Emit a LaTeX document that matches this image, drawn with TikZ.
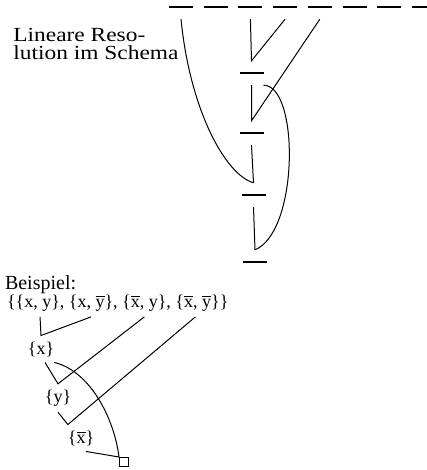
\documentclass[tikz,border=0pt]{standalone}
\usepackage{fontspec}
\setmainfont{Liberation Serif}
\newfontfamily\breit{Liberation Serif}[FakeStretch=1.17]
\usetikzlibrary{positioning}

\newcommand{\quer}[1]{$\overline{\mbox{#1}}$}

\begin{document}
\begin{tikzpicture}[
        % Unités : un pixel de la figure
        x=0.5pt, y=-0.5pt,
        node distance = 5.35pt, % Distance entre les clauses
        every node/.style = {font=\fontsize{9}{9}\selectfont},
        % Style du titre
        titel/.style = {font=\breit\fontsize{10}{9}\selectfont},
        % Style des clauses (traits épais)
        klausel/.style = {
            rectangle,
            fill=black,
            minimum width=12pt,
            minimum height=1.2pt,
            inner sep=0pt,
            outer xsep=0pt,
            outer ysep=5.5pt
        },
        % Style des morceaux de l'ensemble
        menge/.style = {
            anchor=base west,
            inner sep=0pt,
            outer xsep=0pt,
            outer ysep=3pt
        },
        % Style des résolvantes
        resolvente/.style = {
            inner sep=0pt,
            outer xsep=0pt,
            outer ysep=3pt
        },
        % Style des traits
        kante/.style = {
            line width=0.5pt
        }
    ]

        \useasboundingbox (0,0) rectangle (427,470);
        \clip (0,0) rectangle (427,470);

        % 1. Schéma : clauses de départ et résolvantes
        \node (k1) [klausel] at (181,7) {};
        \node (k2) [klausel, right=of k1] {};
        \node (k3) [klausel, right=of k2] {};
        \node (k4) [klausel, right=of k3] {};
        \node (k5) [klausel, right=of k4] {};
        \node (k6) [klausel, right=of k5] {};
        \node (k7) [klausel, right=of k6] {};
        \node (k8) [klausel, right=of k7] {};

        \node (b1) [klausel] at (251.5,73) {};
        \node (b2) [klausel] at (251.5,133) {};
        \node (b3) [klausel] at (253.5,195) {};
        \node (b4) [klausel] at (255,262) {};

        \node (titel) [titel, anchor=north west, align=left, inner sep=0pt] at (13,28) {Lineare Reso-\\lution im Schema};

        % 2. Tracé des traits du schéma
        \draw [kante] (k3.south) -- (b1.north) -- (k4.south);
        \draw [kante] (b1.south) -- (b2.north) -- (k5.south);
        \draw [kante] (k1.south) .. controls +(9,91) and +(-28,-8) .. (b3.north);
        \draw [kante] (b2.south) -- (b3.north);
        \draw [kante] (b1.south east) .. controls +(36,0) and +(44,-18) .. (b4.north);
        \draw [kante] (b3.south) -- (b4.north);

        % 3. Exemple
        \node (beispiel) [menge, font=\fontsize{10}{9}\selectfont] at (5,289) {Beispiel:};
        \node (auf) [menge] at (7,307) {\{};
        \node (s1) [menge] at (auf.base east) {\{x, y\},};
        \node (s2) [menge] at (s1.base east) {\ \{x, \quer{y}\},};
        \node (s3) [menge] at (s2.base east) {\ \{\quer{x}, y\},};
        \node (s4) [menge] at (s3.base east) {\ \{\quer{x}, \quer{y}\}};
        \node (zu) [menge] at (s4.base east) {\}};

        \node (r1) [resolvente] at (41,349) {\{x\}};
        \node (r2) [resolvente] at (58,398) {\{y\}};
        \node (r3) [resolvente] at (81,438) {\{\quer{x}\}};
        \node (leer) [draw, line width=0.5pt, minimum size=4.5pt, inner sep=0pt] at (124,462) {};

        \draw [kante] (s1.south) -- (r1.north) -- (s2.south);
        \draw [kante] ([xshift=2pt]r1.south) -- (r2.north) -- (s3.south);
        \draw [kante] (r2.south) -- (r3.north west) -- (s4.south);
        \draw [kante] ([xshift=2.5pt]r3.south) -- (leer.north west);
        \draw [kante] (r1.south east) .. controls +(35,8) and +(-5,-40) .. (leer.north west);

    \end{tikzpicture}
\end{document}
